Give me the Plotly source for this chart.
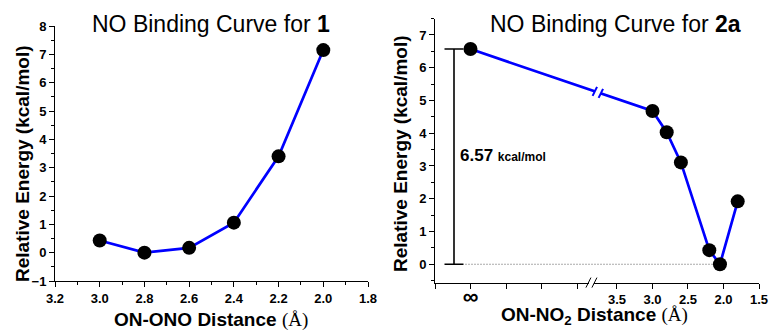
import plotly.graph_objects as go

# ---- data -------------------------------------------------------------
# Complex 1: ON-ONO distance (Å) vs relative energy (kcal/mol)
dist_1 = [3.0, 2.8, 2.6, 2.4, 2.2, 2.0]
energy_1 = [0.43, 0.0, 0.17, 1.06, 3.40, 7.15]

# Complex 2a: ON-NO2 distance (Å) vs relative energy; first point is the
# fully dissociated (infinite separation) reference
dist_2a = [float("inf"), 3.0, 2.8, 2.6, 2.2, 2.05, 1.8]
energy_2a = [6.57, 4.68, 4.03, 3.11, 0.43, 0.0, 1.92]

x1_ticks = [3.2, 3.0, 2.8, 2.6, 2.4, 2.2, 2.0, 1.8]
x2_ticks_real = [3.5, 3.0, 2.5, 2.0, 1.5]

# ---- layout constants (pixels of a 770x331 canvas) --------------------
W, H = 770, 331
FONT = "Liberation Sans"
BLUE = "#0000ff"

# broken x axis of the right panel: the "infinity" segment sits left of the break
X2_RANGE = [6.063, 1.5]
INF_POS = 5.563
INF_SEG_TICKS = [6.063, 5.563, 5.063, 4.563, 4.063]
BREAK_POS = 3.77
Y2_RANGE = [-0.56, 7.5]

L_DOM_X = [55 / W, 368 / W]
L_DOM_Y = [1 - 281 / H, 1 - 26 / H]
R_DOM_X = [435 / W, 759 / W]
R_DOM_Y = [1 - 282.6 / H, 1 - 18.6 / H]

# pixel -> data unit scales of the right panel
PX_X2 = (R_DOM_X[1] - R_DOM_X[0]) * W / abs(X2_RANGE[0] - X2_RANGE[1])
PX_Y2 = (R_DOM_Y[1] - R_DOM_Y[0]) * H / (Y2_RANGE[1] - Y2_RANGE[0])


def dx(px):
    # pixel offset to the right -> data offset on the reversed x2 axis
    return -px / PX_X2


def dy(px):
    # pixel offset upwards -> data offset on y2
    return px / PX_Y2


x2_plot = [INF_POS if d == float("inf") else d for d in dist_2a]

fig = go.Figure()

marker = dict(color="black", size=14)
line = dict(color=BLUE, width=2.7)

fig.add_trace(go.Scatter(x=dist_1, y=energy_1, mode="lines+markers",
                         marker=marker, line=line, xaxis="x", yaxis="y",
                         showlegend=False, cliponaxis=False))
fig.add_trace(go.Scatter(x=x2_plot, y=energy_2a, mode="lines+markers",
                         marker=marker, line=line, xaxis="x2", yaxis="y2",
                         showlegend=False, cliponaxis=False))

tickfont = dict(family=FONT, size=13, color="black", weight="bold")
axis_common = dict(showline=True, linecolor="black", linewidth=1,
                   ticks="outside", ticklen=5, tickwidth=1, tickcolor="black",
                   showgrid=False, zeroline=False, tickfont=tickfont,
                   automargin=False)

fig.update_layout(
    template="none",
    width=W, height=H,
    margin=dict(l=0, r=0, t=0, b=0, pad=0, autoexpand=False),
    paper_bgcolor="white", plot_bgcolor="white",
    showlegend=False,
    xaxis=dict(domain=L_DOM_X, range=[3.2, 1.8], anchor="y",
               tickvals=x1_ticks, tickformat=".1f",
               minor=dict(dtick=0.1, ticklen=3, tickcolor="black", ticks="outside"),
               **axis_common),
    yaxis=dict(domain=L_DOM_Y, range=[-1, 8], anchor="x", dtick=1,
               minor=dict(dtick=0.5, ticklen=3, tickcolor="black", ticks="outside"),
               **axis_common),
    xaxis2=dict(domain=R_DOM_X, range=X2_RANGE, anchor="y2",
                tickvals=INF_SEG_TICKS + x2_ticks_real,
                ticktext=[" ", "<span style='font-size:22px'>∞</span>", " ", " ", " "]
                + [f"{v:.1f}" for v in x2_ticks_real],
                **axis_common),
    yaxis2=dict(domain=R_DOM_Y, range=Y2_RANGE, anchor="x2",
                tickvals=list(range(0, 8)),
                minor=dict(dtick=0.5, ticklen=3, tickcolor="black", ticks="outside"),
                **axis_common),
)

shapes = []

# binding energy bracket: from the dissociated limit down to the minimum
e_inf = energy_2a[0]
e_min = min(energy_2a)
d_min = x2_plot[energy_2a.index(e_min)]
BRACKET_X = INF_POS + dx(-16.5)  # 16.5 px left of the infinity point
CAP = 9.5
bk = dict(color="black", width=1.6)
shapes.append(dict(type="line", xref="x2", yref="y2", x0=BRACKET_X, x1=BRACKET_X,
                   y0=e_min, y1=e_inf, line=bk))
for yv in (e_min, e_inf):
    shapes.append(dict(type="line", xref="x2", yref="y2",
                       x0=BRACKET_X + dx(-CAP), x1=BRACKET_X + dx(CAP),
                       y0=yv, y1=yv, line=bk))
# dotted reference at the minimum energy
shapes.append(dict(type="line", xref="x2", yref="y2",
                   x0=BRACKET_X + dx(CAP + 2), x1=d_min, y0=e_min, y1=e_min,
                   line=dict(color="#555555", width=1, dash="1px,2px"), layer="below"))

# break marks on the connecting line between the infinity point and 3.0 Å
xa, ya = x2_plot[0], energy_2a[0]
xb, yb = x2_plot[1], energy_2a[1]
yb_line = ya + (BREAK_POS - xa) / (xb - xa) * (yb - ya)
shapes.append(dict(type="line", xref="x2", yref="y2",
                   x0=BREAK_POS + dx(-3), x1=BREAK_POS + dx(3),
                   y0=yb_line + dy(1.0), y1=yb_line - dy(1.0),
                   line=dict(color="white", width=5)))
for off in (-3, 3):
    xc = BREAK_POS + dx(off)
    yc = yb_line - dy(off * 0.34)
    shapes.append(dict(type="line", xref="x2", yref="y2",
                       x0=xc + dx(-2.2), x1=xc + dx(2.2),
                       y0=yc - dy(4.5), y1=yc + dy(4.5),
                       line=dict(color=BLUE, width=2)))

# break marks on the x axis
AXIS_Y = R_DOM_Y[0]
AX_BREAK = 3.86
shapes.append(dict(type="line", xref="x2", yref="paper",
                   x0=AX_BREAK + dx(-2.5), x1=AX_BREAK + dx(2.5),
                   y0=AXIS_Y, y1=AXIS_Y, line=dict(color="white", width=3)))
for off in (-3, 3):
    xc = AX_BREAK + dx(off)
    shapes.append(dict(type="line", xref="x2", yref="paper",
                       x0=xc + dx(-2.5), x1=xc + dx(2.5),
                       y0=AXIS_Y - 5 / H, y1=AXIS_Y + 5 / H,
                       line=dict(color="black", width=1)))

fig.update_layout(shapes=shapes)

ann = []
title_font = dict(family=FONT, size=23, color="black")
ann.append(dict(text="NO Binding Curve for <b>1</b>", xref="paper", yref="paper",
                x=211 / W, y=1 - 24 / H, xanchor="center", yanchor="middle",
                showarrow=False, font=title_font))
ann.append(dict(text="NO Binding Curve for <b>2a</b>", xref="paper", yref="paper",
                x=615 / W, y=1 - 24 / H, xanchor="center", yanchor="middle",
                showarrow=False, font=title_font))

label_font = dict(family=FONT, size=19, color="black")
ytitle = "<b>Relative Energy (kcal/mol)</b>"
ann.append(dict(text=ytitle, xref="paper", yref="paper", x=22 / W, y=1 - 164 / H,
                xanchor="center", yanchor="middle", textangle=-90,
                showarrow=False, font=label_font))
ann.append(dict(text=ytitle, xref="paper", yref="paper", x=400 / W, y=1 - 153 / H,
                xanchor="center", yanchor="middle", textangle=-90,
                showarrow=False, font=label_font))

ang = "<span style='font-family:Liberation Serif;font-weight:normal'>(Å)</span>"
ann.append(dict(text="<b>ON-ONO Distance</b> " + ang, xref="paper", yref="paper",
                x=211 / W, y=1 - 320 / H, xanchor="center", yanchor="middle",
                showarrow=False, font=label_font))
ann.append(dict(text="<b>ON-NO<sub>2</sub> Distance</b> " + ang, xref="paper",
                yref="paper", x=594 / W, y=1 - 316 / H, xanchor="center",
                yanchor="middle", showarrow=False, font=label_font))

ann.append(dict(text=f"<b>{e_inf - e_min:.2f}</b> <b><span style='font-size:12px'>kcal/mol</span></b>",
                xref="x2", yref="y2", x=BRACKET_X + dx(4), y=3.33,
                xanchor="left", yanchor="middle", showarrow=False,
                font=dict(family=FONT, size=17, color="black")))

fig.update_layout(annotations=ann)

fig.write_html("out.html")
